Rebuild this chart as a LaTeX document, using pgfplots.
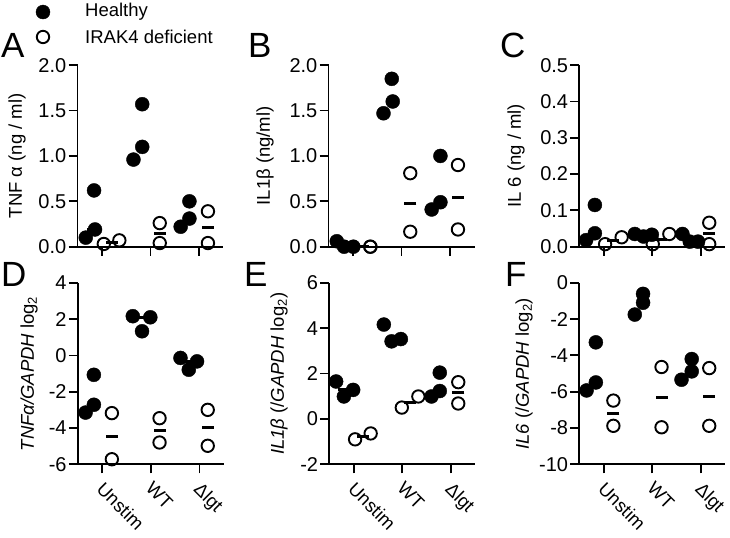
\documentclass[border=0pt]{standalone}
\usepackage{fontspec}
\setmainfont{Liberation Sans}
\usepackage{pgfplots}
\pgfplotsset{compat=1.18}
\newcommand{\ticksize}{\fontsize{20bp}{23bp}\selectfont}
\newcommand{\labsize}{\fontsize{18.5bp}{22bp}\selectfont}
\newcommand{\letsize}{\fontsize{35bp}{38bp}\selectfont}
\pgfplotsset{
  panel/.style={
    scale only axis, width=146bp, height=181.5bp,
    axis x line=bottom, axis y line=left,
    axis line style={-, line width=1.8bp, black},
    tick align=outside, tick style={line width=1.8bp, black},
    major tick length=9bp,
    xmin=0.5, xmax=3.5, xtick={1,2,3},
    clip=false,
    ticklabel style={font=\ticksize},
    yticklabel style={inner sep=2bp},
  },
  toprow/.style={xticklabels={}},
  botrow/.style={xticklabels={Unstim,WT,Δlgt},
    xticklabel style={xshift=3bp, yshift=-6bp, rotate=-45, anchor=north west, inner sep=1bp, font=\labsize}},
  healthy/.style={only marks, mark=*, mark size=7bp, mark options={fill=black, draw=black, line width=0.4bp}},
  irak/.style={only marks, mark=o, mark size=6.2bp, mark options={fill=white, draw=black, line width=1.9bp}},
  med/.style={only marks, mark=-, mark size=6bp, mark options={line width=3bp, black}},
}
\begin{document}
\begin{tikzpicture}
\useasboundingbox (0bp,0bp) rectangle (730bp,538bp);
% ---------------- A (also carries the legend markers, above the plot area)
\begin{axis}[panel, toprow, at={(77.5bp,291.3bp)}, anchor=south west,
  ymin=0, ymax=2, ytick={0,0.5,1,1.5,2}, yticklabels={0.0,0.5,1.0,1.5,2.0}]
\addplot[med] coordinates {(0.82,0.19) (1.82,1.10) (2.82,0.31)};
\addplot[med] coordinates {(1.2,0.05) (2.19,0.15) (3.18,0.215)};
\addplot[healthy]
  coordinates {(0.67,0.10) (0.84,0.62) (0.86,0.19) (1.65,0.96) (1.83,1.57) (1.83,1.10) (2.62,0.22) (2.80,0.50) (2.80,0.31)};
\addplot[irak]
  coordinates {(1.04,0.03) (1.36,0.07) (2.19,0.26) (2.19,0.04) (3.18,0.39) (3.18,0.04)};
% legend keys
\addplot[healthy] coordinates {(-0.209,2.586)};
\addplot[irak] coordinates {(-0.209,2.311)};
\end{axis}
\node[anchor=west, inner sep=0pt, font=\labsize] at (85bp,526bp) {Healthy};
\node[anchor=west, inner sep=0pt, font=\labsize] at (85bp,501bp) {IRAK4 deficient};
% ---------------- B
\begin{axis}[panel, toprow, at={(328.5bp,291.3bp)}, anchor=south west,
  ymin=0, ymax=2, ytick={0,0.5,1,1.5,2}, yticklabels={0.0,0.5,1.0,1.5,2.0}]
\addplot[med] coordinates {(0.82,0.0) (1.80,1.60) (2.80,0.49)};
\addplot[med] coordinates {(1.2,0.0) (2.18,0.48) (3.16,0.545)};
\addplot[healthy] coordinates {(0.67,0.06) (0.82,0.0) (1.01,0.0) (1.63,1.47) (1.80,1.85) (1.82,1.60) (2.62,0.41) (2.80,1.00) (2.80,0.49)};
\addplot[irak] coordinates {(1.36,0.0) (1.36,0.0) (2.18,0.81) (2.18,0.165) (3.16,0.90) (3.16,0.19)};
\end{axis}
% ---------------- C
\begin{axis}[panel, toprow, at={(579.3bp,291.3bp)}, anchor=south west,
  ymin=0, ymax=0.5, ytick={0,0.1,0.2,0.3,0.4,0.5}, yticklabels={0.0,0.1,0.2,0.3,0.4,0.5}]
\addplot[med] coordinates {(0.82,0.037) (1.82,0.033) (2.77,0.014)};
\addplot[med] coordinates {(1.2,0.016) (2.18,0.021) (3.17,0.037)};
\addplot[healthy] coordinates {(0.64,0.018) (0.82,0.115) (0.82,0.037) (1.64,0.035) (1.82,0.028) (1.99,0.033) (2.62,0.035) (2.77,0.014) (2.94,0.014)};
\addplot[irak] coordinates {(1.03,0.007) (1.37,0.026) (2.01,0.007) (2.35,0.035) (3.17,0.066) (3.17,0.007)};
\end{axis}
% ---------------- D
\begin{axis}[panel, botrow, at={(77.8bp,73.7bp)}, anchor=south west,
  ymin=-6, ymax=4, ytick={-6,-4,-2,0,2,4}, yticklabels={-6,-4,-2,0,2,4}]
\addplot[med] coordinates {(0.83,-2.72) (1.82,2.10) (2.78,-0.33)};
\addplot[med] coordinates {(1.2,-4.45) (2.18,-4.13) (3.17,-3.99)};
\addplot[healthy] coordinates {(0.66,-3.15) (0.83,-1.07) (0.83,-2.72) (1.63,2.16) (1.99,2.10) (1.82,1.33) (2.61,-0.14) (2.95,-0.33) (2.78,-0.79)};
\addplot[irak] coordinates {(1.2,-3.18) (1.2,-5.72) (2.18,-3.46) (2.18,-4.8) (3.17,-3.0) (3.17,-4.98)};
\end{axis}
% ---------------- E
\begin{axis}[panel, botrow, at={(329.3bp,73.7bp)}, anchor=south west,
  ymin=-2, ymax=6, ytick={-2,0,2,4,6}, yticklabels={-2,0,2,4,6}]
\addplot[med] coordinates {(0.80,1.28) (1.78,3.52) (2.77,1.23)};
\addplot[med] coordinates {(1.19,-0.77) (2.16,0.745) (3.15,1.15)};
\addplot[healthy] coordinates {(0.64,1.65) (0.80,0.99) (0.99,1.28) (1.62,4.16) (1.78,3.42) (1.97,3.52) (2.60,0.99) (2.77,2.04) (2.77,1.23)};
\addplot[irak] coordinates {(1.03,-0.9) (1.35,-0.64) (1.99,0.5) (2.33,0.99) (3.15,1.62) (3.15,0.68)};
\end{axis}
% ---------------- F
\begin{axis}[panel, botrow, at={(579.3bp,73.7bp)}, anchor=south west,
  ymin=-10, ymax=0, ytick={-10,-8,-6,-4,-2,0}, yticklabels={-10,-8,-6,-4,-2,0}]
\addplot[med] coordinates {(0.84,-5.49) (1.81,-1.10) (2.81,-4.88)};
\addplot[med] coordinates {(1.2,-7.18) (2.19,-6.30) (3.17,-6.29)};
\addplot[healthy] coordinates {(0.65,-5.93) (0.84,-3.28) (0.84,-5.49) (1.64,-1.75) (1.81,-0.61) (1.81,-1.10) (2.60,-5.34) (2.81,-4.20) (2.81,-4.88)};
\addplot[irak] coordinates {(1.2,-6.49) (1.2,-7.88) (2.19,-4.64) (2.19,-7.96) (3.17,-4.70) (3.17,-7.88)};
\end{axis}
% y labels
\node[rotate=90, font=\labsize] at (17bp,382.1bp) {TNF α (ng / ml)};
\node[rotate=90, font=\labsize] at (265bp,382.1bp) {IL1β (ng/ml)};
\node[rotate=90, font=\labsize] at (516bp,382.1bp) {IL 6 (ng / ml)};
\node[rotate=90, font=\labsize] at (29bp,164.2bp) {\itshape TNFα/GAPDH\upshape{} log\textsubscript{2}};
\node[rotate=90, font=\labsize] at (279bp,164.2bp) {\itshape IL1β\upshape{} (/\itshape GAPDH\upshape{} log\textsubscript{2})};
\node[rotate=90, font=\labsize] at (524bp,164.2bp) {\itshape IL6\upshape{} (/\itshape GAPDH\upshape{} log\textsubscript{2})};
% panel letters
\node[anchor=base west, inner sep=0pt, font=\letsize] at (1bp,480bp) {A};
\node[anchor=base west, inner sep=0pt, font=\letsize] at (248bp,480bp) {B};
\node[anchor=base west, inner sep=0pt, font=\letsize] at (500bp,480bp) {C};
\node[anchor=base west, inner sep=0pt, font=\letsize] at (1bp,251bp) {D};
\node[anchor=base west, inner sep=0pt, font=\letsize] at (244bp,251bp) {E};
\node[anchor=base west, inner sep=0pt, font=\letsize] at (505bp,251bp) {F};
\end{tikzpicture}
\end{document}
